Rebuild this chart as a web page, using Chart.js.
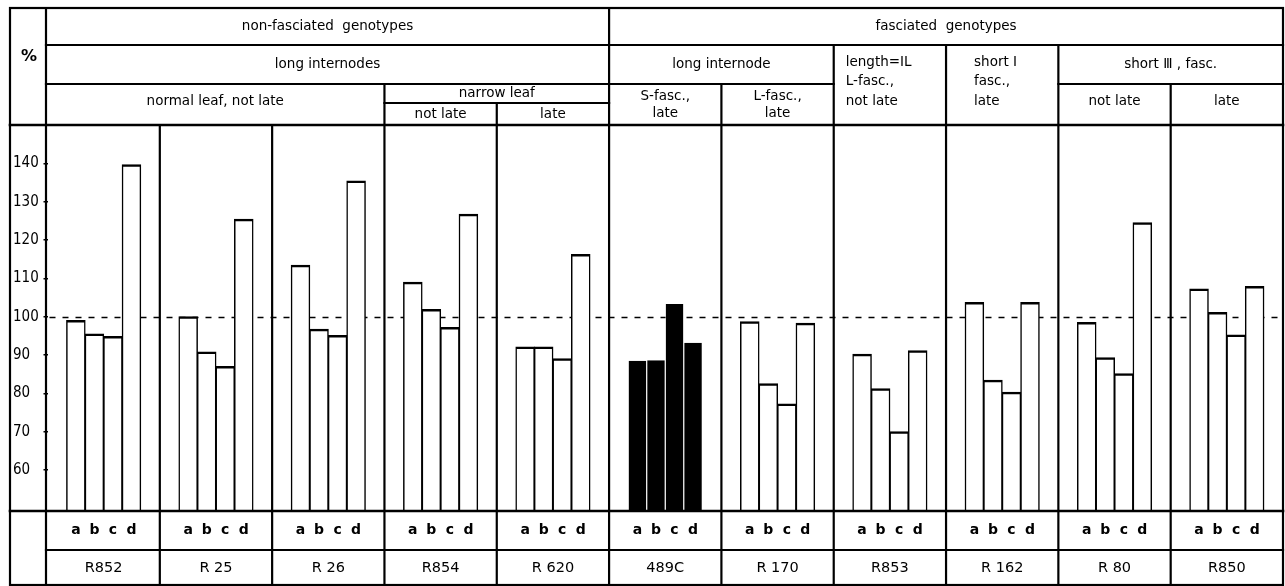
<!DOCTYPE html>
<html>
<head>
<meta charset="utf-8">
<script src="https://cdn.jsdelivr.net/npm/chart.js@4/dist/chart.umd.min.js"></script>
<style>
  html, body { margin: 0; padding: 0; background: #fff; }
  #wrap { position: relative; width: 1285px; height: 586px; }
</style>
</head>
<body>
<div id="wrap"><canvas id="c" width="1285" height="586"></canvas></div>
<script>
// Genotypes along the x axis and the four measured traits a-d (% of control)
const genotypes = ['R852', 'R 25', 'R 26', 'R854', 'R 620', '489C', 'R 170', 'R853', 'R 162', 'R 80', 'R850'];
const traitKeys = ['a', 'b', 'c', 'd'];
const traitA = [99.0, 100.0, 113.4, 109.0, 92.1, 88.5, 98.7, 90.2, 103.7, 98.5, 107.2];
const traitB = [95.5, 90.8, 96.7, 101.9, 92.1, 88.6, 82.5, 81.2, 83.4, 89.3, 101.1];
const traitC = [94.8, 87.0, 95.1, 97.2, 89.0, 103.3, 77.2, 70.0, 80.3, 85.1, 95.2];
const traitD = [139.6, 125.4, 135.4, 126.7, 116.2, 93.2, 98.3, 91.1, 103.7, 124.5, 107.9];
const yTicks = [60, 70, 80, 90, 100, 110, 120, 130, 140];
const referenceLevel = 100;
const filledGenotype = '489C';

// Header cells: text lines, column span (first, last genotype index) and header row
const headerCells = [
  { text: ['non-fasciated  genotypes'], cols: [0, 4], row: 'r1' },
  { text: ['fasciated  genotypes'], cols: [5, 10], row: 'r1' },
  { text: ['long internodes'], cols: [0, 4], row: 'r2' },
  { text: ['long internode'], cols: [5, 6], row: 'r2' },
  { text: ['length=IL', 'L-fasc.,', 'not late'], cols: [7, 7], row: 'r23' },
  { text: ['short \u2160', 'fasc.,', 'late'], cols: [8, 8], row: 'r23' },
  { text: ['short \u2162 , fasc.'], cols: [9, 10], row: 'r2' },
  { text: ['normal leaf, not late'], cols: [0, 2], row: 'r3' },
  { text: ['narrow leaf'], cols: [3, 4], row: 'r3a' },
  { text: ['not late'], cols: [3, 3], row: 'r3b' },
  { text: ['late'], cols: [4, 4], row: 'r3b' },
  { text: ['S-fasc.,', 'late'], cols: [5, 5], row: 'r3' },
  { text: ['L-fasc.,', 'late'], cols: [6, 6], row: 'r3' },
  { text: ['not late'], cols: [9, 9], row: 'r3' },
  { text: ['late'], cols: [10, 10], row: 'r3' }
];

const series = [traitA, traitB, traitC, traitD];
const FONT = '"DejaVu Sans", "Liberation Sans", sans-serif';
const NUM_FONT = '"DejaVu Sans Condensed", "DejaVu Sans", sans-serif';

// Frame rows (y) of the table drawn around the plot
const ROWS = { top: 8, r1: 45, r2: 84, r2b: 103, sub: 550, bottom: 585, outerLeft: 10, pctCol: 46 };
const TEXT_Y = {
  r1: [26], r2: [64], r3: [101], r3two: [96, 113], r3a: [93], r3b: [114], r23: [62, 81, 101]
};

const isFilled = ctx => genotypes[ctx.dataIndex] === filledGenotype;

const tablePlugin = {
  id: 'table',
  beforeDatasetsDraw(chart) {
    const { ctx, chartArea: a, scales: { y } } = chart;
    const yy = Math.round(y.getPixelForValue(referenceLevel)) + 0.5;
    ctx.save();
    ctx.strokeStyle = '#000';
    ctx.lineWidth = 1.7;
    ctx.setLineDash([6, 7]);
    ctx.beginPath();
    ctx.moveTo(a.left + 2, yy);
    ctx.lineTo(a.right, yy);
    ctx.stroke();
    ctx.restore();
  },
  afterDraw(chart) {
    const { ctx, chartArea: a, scales: { x } } = chart;
    const bx = k => x.getPixelForValue(k - 0.5);
    const head = a.top, base = a.bottom;
    const L = ROWS.outerLeft, R = bx(genotypes.length), P = ROWS.pctCol;

    ctx.save();
    ctx.strokeStyle = '#000';
    ctx.lineWidth = 2.2;
    ctx.lineCap = 'square';
    const hline = (x1, x2, yy) => { ctx.beginPath(); ctx.moveTo(x1, yy); ctx.lineTo(x2, yy); ctx.stroke(); };
    const vline = (xx, y1, y2) => { ctx.beginPath(); ctx.moveTo(xx, y1); ctx.lineTo(xx, y2); ctx.stroke(); };

    // outer frame and % column
    ctx.strokeRect(L, ROWS.top, R - L, ROWS.bottom - ROWS.top);
    vline(P, ROWS.top, ROWS.bottom);
    // header rows
    hline(P, R, ROWS.r1);
    hline(P, bx(7), ROWS.r2);
    hline(bx(9), R, ROWS.r2);
    hline(bx(3), bx(5), ROWS.r2b);
    ctx.lineWidth = 2.6;
    hline(L, R, head);
    hline(L, R, base);
    ctx.lineWidth = 2.2;
    hline(P, R, ROWS.sub);
    // column dividers
    vline(bx(5), ROWS.top, ROWS.bottom);
    [7, 8, 9].forEach(k => vline(bx(k), ROWS.r1, ROWS.bottom));
    [3, 6, 10].forEach(k => vline(bx(k), ROWS.r2, ROWS.bottom));
    vline(bx(4), ROWS.r2b, ROWS.bottom);
    [1, 2].forEach(k => vline(bx(k), head, ROWS.bottom));

    // header texts
    ctx.fillStyle = '#000';
    ctx.textBaseline = 'middle';
    ctx.font = '13.5px ' + FONT;
    headerCells.forEach(cell => {
      const x1 = cell.cols[0] === 0 ? P : bx(cell.cols[0]);
      const x2 = bx(cell.cols[1] + 1);
      let ys = TEXT_Y[cell.row];
      if (cell.row === 'r3' && cell.text.length === 2) ys = TEXT_Y.r3two;
      if (cell.row === 'r23') {
        ctx.textAlign = 'left';
        const inset = cell.cols[0] === 7 ? 12 : 28;
        cell.text.forEach((t, i) => ctx.fillText(t, x1 + inset, ys[i]));
      } else {
        ctx.textAlign = 'center';
        cell.text.forEach((t, i) => ctx.fillText(t, (x1 + x2) / 2, ys[i]));
      }
    });

    ctx.textAlign = 'center';
    ctx.font = 'bold 16px ' + FONT;
    ctx.fillText('%', (L + P) / 2 + 1, 57);

    // trait letters under each bar
    ctx.font = 'bold 14px ' + FONT;
    traitKeys.forEach((key, i) => {
      chart.getDatasetMeta(i).data.forEach(el => ctx.fillText(key, el.x, (base + ROWS.sub) / 2));
    });
    // genotype names
    ctx.font = '14.5px ' + FONT;
    genotypes.forEach((g, k) => ctx.fillText(g, x.getPixelForValue(k), (ROWS.sub + ROWS.bottom) / 2 + 1));
    ctx.restore();
  }
};

new Chart(document.getElementById('c'), {
  type: 'bar',
  data: {
    labels: genotypes,
    datasets: series.map((vals, i) => ({
      label: traitKeys[i],
      data: vals,
      backgroundColor: ctx => isFilled(ctx) ? '#000' : '#fff',
      borderColor: ctx => isFilled(ctx) ? '#fff' : '#000',
      borderWidth: ctx => isFilled(ctx)
        ? { top: 0, left: 0.6, right: 0.6, bottom: 0 }
        : { top: 2.5, left: 1.5, right: 1.5, bottom: 0 },
      borderSkipped: false,
      inflateAmount: ctx => isFilled(ctx) ? 0 : 0.5,
      categoryPercentage: 0.66,
      barPercentage: 1.0
    }))
  },
  options: {
    responsive: false,
    animation: false,
    devicePixelRatio: 1,
    layout: { padding: { left: 13, right: 2, top: 125, bottom: 75 } },
    plugins: { legend: { display: false }, tooltip: { enabled: false } },
    scales: {
      x: { display: false, offset: true },
      y: {
        min: 49.3,
        max: 150,
        afterFit(scale) { scale.width = 34.5; },
        afterBuildTicks(scale) { scale.ticks = yTicks.map(v => ({ value: v })); },
        ticks: { color: '#000', font: { family: NUM_FONT, size: 15 }, crossAlign: 'far', padding: 2 },
        grid: { drawOnChartArea: false, drawTicks: true, tickLength: 4, color: '#000', lineWidth: 1.5 },
        border: { display: false }
      }
    }
  },
  plugins: [tablePlugin]
});
</script>
</body>
</html>
